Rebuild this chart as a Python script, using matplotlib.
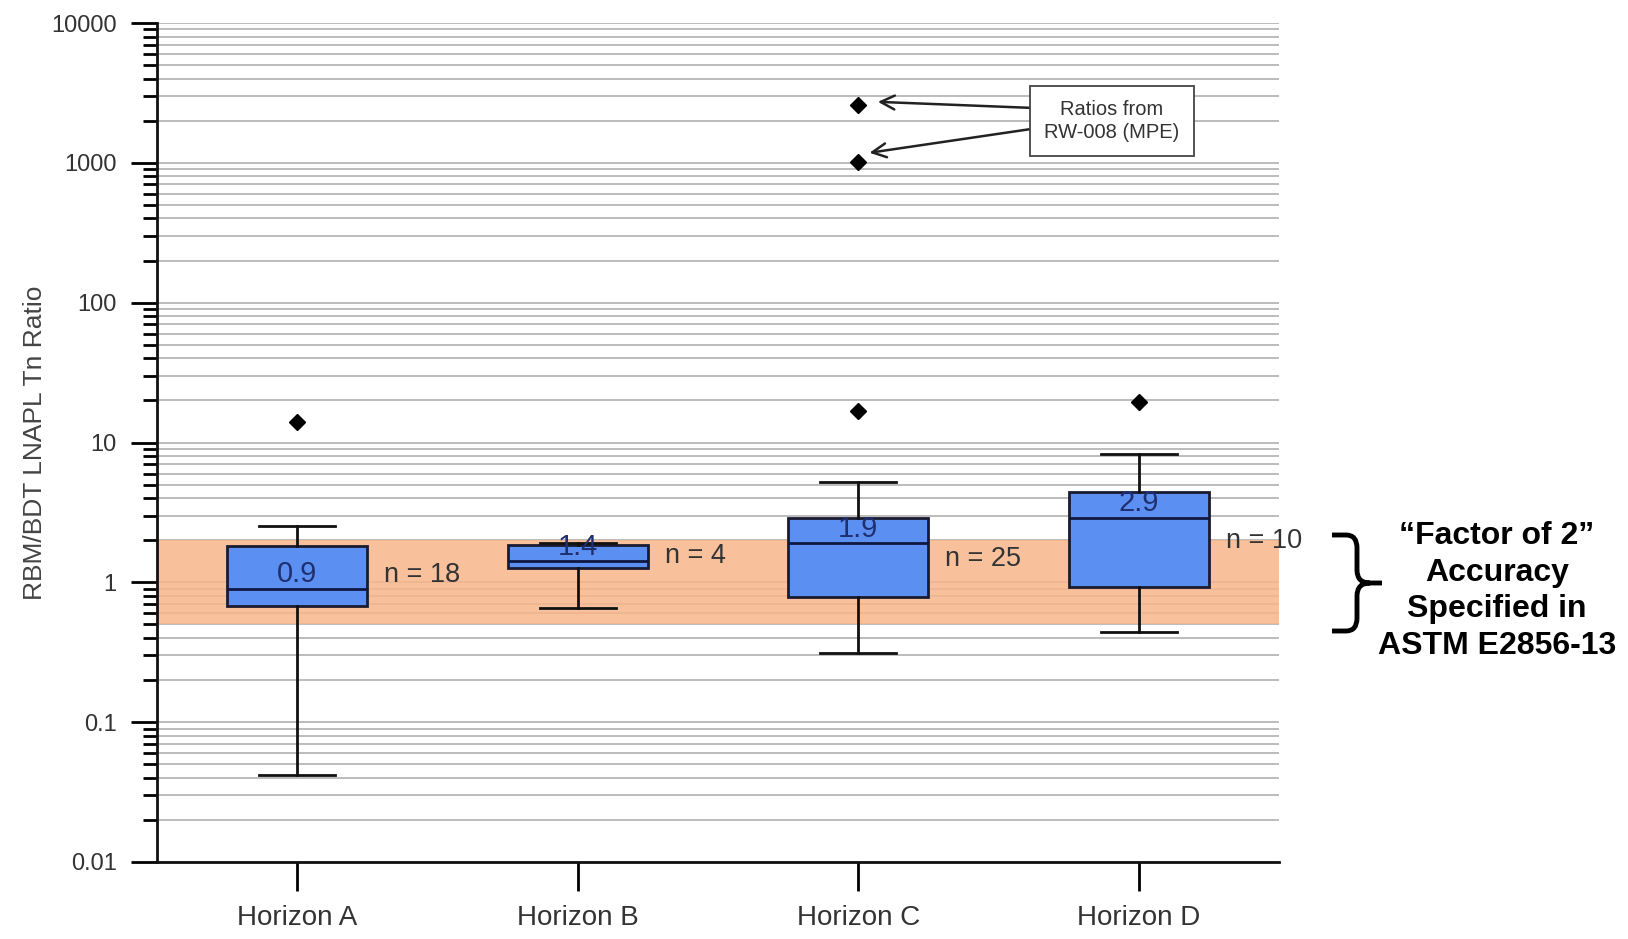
import matplotlib
matplotlib.use("Agg")
import matplotlib.pyplot as plt
from matplotlib.path import Path
from matplotlib.patches import PathPatch
from matplotlib.ticker import FixedLocator, LogLocator, NullFormatter

plt.rcParams['font.family'] = ['Liberation Sans', 'DejaVu Sans']

horizons = ["Horizon A", "Horizon B", "Horizon C", "Horizon D"]
q1 = [0.68, 1.27, 0.79, 0.93]
med = [0.90, 1.41, 1.91, 2.89]
q3 = [1.83, 1.86, 2.89, 4.45]
whislo = [0.042, 0.66, 0.31, 0.44]
whishi = [2.52, 1.92, 5.2, 8.3]
fliers = [[14.1], [], [16.8, 1016, 2600], [19.6]]
n_counts = [18, 4, 25, 10]
median_labels = ["0.9", "1.4", "1.9", "2.9"]
n_label_y = [1.13, 1.55, 1.47, 1.99]
band = [0.5, 2.0]
ytick_vals = [0.01, 0.1, 1, 10, 100, 1000, 10000]
ytick_labels = ["0.01", "0.1", "1", "10", "100", "1000", "10000"]

fig = plt.figure(figsize=[16.28, 9.39], dpi=100)
ax = fig.add_axes([157 / 1628, 1 - 862 / 939, 1122 / 1628, 839 / 939])

stats = []
for i in range(len(horizons)):
    stats.append(dict(med=med[i], q1=q1[i], q3=q3[i], whislo=whislo[i],
                      whishi=whishi[i], fliers=fliers[i], label=horizons[i]))

pos = [1, 2, 3, 4]
ax.bxp(stats, positions=pos, widths=0.5, capwidths=0.27, patch_artist=True,
       boxprops=dict(facecolor='#5b8ff2', edgecolor='#1a1a30', linewidth=2),
       medianprops=dict(color='#101840', linewidth=2),
       whiskerprops=dict(color='#111111', linewidth=2),
       capprops=dict(color='#111111', linewidth=2),
       flierprops=dict(marker='D', markerfacecolor='black', markeredgecolor='black',
                       markersize=8),
       zorder=3)

ax.axhspan(band[0], band[1], color='#f7b58a', alpha=0.85, zorder=1, lw=0)

ax.set_yscale('log')
ax.set_ylim(0.01, 10000)
ax.set_xlim(0.5, 4.5)
ax.yaxis.set_major_locator(FixedLocator(ytick_vals))
ax.set_yticklabels(ytick_labels)
ax.yaxis.set_minor_locator(LogLocator(base=10, subs=range(2, 10), numticks=20))
ax.yaxis.set_minor_formatter(NullFormatter())
ax.set_axisbelow(True)
ax.grid(True, which='both', axis='y', color='#b0b0b0', linewidth=1.2)

for s in ['top', 'right']:
    ax.spines[s].set_visible(False)
for s in ['left', 'bottom']:
    ax.spines[s].set_linewidth(2)
    ax.spines[s].set_color('#111111')

ax.tick_params(axis='y', which='major', length=19, width=2, direction='out',
               labelsize=17, labelcolor='#333333', pad=10)
ax.tick_params(axis='y', which='minor', length=10, width=2, direction='out')
ax.tick_params(axis='x', length=21, width=2, direction='out', labelsize=20,
               labelcolor='#333333', pad=10)

ax.set_ylabel("RBM/BDT LNAPL Tn Ratio", fontsize=19, color='#444444', labelpad=3)

for i in range(len(horizons)):
    ax.text(pos[i], med[i] * 1.27, median_labels[i], ha='center', va='center',
            fontsize=21, color='#1f2f6f', zorder=4)
    ax.text(pos[i] + 0.31, n_label_y[i], "n = %d" % n_counts[i], ha='left',
            va='center', fontsize=19.5, color='#333333', zorder=4)

ax.text(3.905, 1995, "Ratios from\nRW-008 (MPE)", ha='center', va='center',
        fontsize=14.5, color='#333333', zorder=5, linespacing=1.3,
        bbox=dict(boxstyle='square,pad=0.7', fc='white', ec='#444444', lw=1.3))
ax.annotate('', xy=(3.07, 2730), xytext=(3.62, 2470),
            arrowprops=dict(arrowstyle='->', lw=1.8, color='#222222',
                            mutation_scale=25, shrinkA=0, shrinkB=0))
ax.annotate('', xy=(3.04, 1180), xytext=(3.62, 1750),
            arrowprops=dict(arrowstyle='->', lw=1.8, color='#222222',
                            mutation_scale=25, shrinkA=0, shrinkB=0))

# curly brace next to the band
W, H = 1628.0, 939.0
pts = [(1332, 535), (1346, 535), (1357, 535), (1357, 548), (1357, 570),
       (1357, 583), (1370, 583), (1382, 583),
       (1370, 583), (1357, 583), (1357, 596), (1357, 618), (1357, 631),
       (1346, 631), (1332, 631)]
codes = [Path.MOVETO, Path.LINETO, Path.CURVE3, Path.CURVE3, Path.LINETO,
         Path.CURVE3, Path.CURVE3, Path.LINETO,
         Path.MOVETO, Path.CURVE3, Path.CURVE3, Path.LINETO, Path.CURVE3,
         Path.CURVE3, Path.LINETO]
brace = Path([(x / W, 1 - y / H) for x, y in pts], codes)
fig.patches.append(PathPatch(brace, transform=fig.transFigure, fill=False,
                             lw=3.5, color='black', capstyle='butt'))

fig.text(1497 / W, 1 - 591 / H, "\u201cFactor of 2\u201d\nAccuracy\nSpecified in\nASTM E2856-13",
         ha='center', va='center', fontsize=23, fontweight='bold',
         multialignment='center', linespacing=1.3)

plt.savefig("out.png", dpi=100)
